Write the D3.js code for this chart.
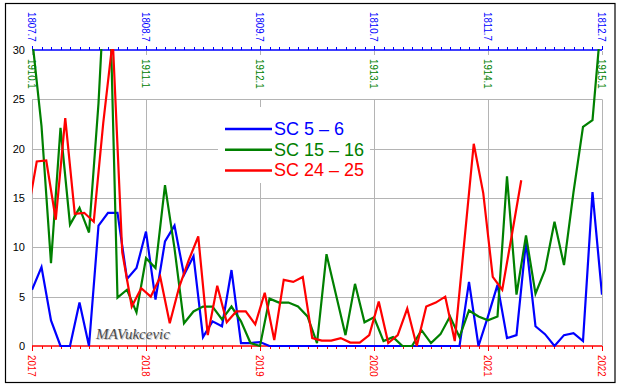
<!DOCTYPE html>
<html>
<head>
<meta charset="utf-8">
<script src="https://cdn.jsdelivr.net/npm/d3@7"></script>
<style>
  body { margin: 0; background: #fff; }
  svg { display: block; font-family: Arial, "Liberation Sans", sans-serif; }
</style>
</head>
<body>
<svg id="chart" width="622" height="387"></svg>
<script>
///// *** DATA *** /////
// monthly values, Jan 2017 .. Jan 2022
var sc56 = [5.7, 8.0, 2.6, 0, 0, 4.4, 0, 12.2, 13.5, 13.5, 6.8, 7.9, 11.6, 4.7, 10.6, 12.2, 7.2, 9.1, 0.9, 2.5,
            2.0, 7.7, 0.3, 0.3, 0.4, 0, 0, 0, 0, 0, 0, 0, 0, 0, 0, 0, 0, 0, 0, 0,
            0, 0, 0, 0, 0, 0, 6.5, 0, 3.0, 6.2, 0.8, 1.1, 10.6, 2.0, 1.2, 0, 1.1, 1.3, 0.5, 15.6, 5.2];
var sc1516 = [31.3, 22.3, 8.4, 22.1, 12.3, 14.0, 11.5, 24.6, 43, 4.9, 5.7, 3.4, 8.9, 7.9, 16.3, 9.9, 2.3, 3.5, 4.0, 4.0,
              2.7, 4.0, 2.5, 0.3, 0, 4.8, 4.4, 4.4, 4.0, 3.0, 0.3, 9.3, 5.2, 1.1, 6.3, 2.4, 2.9, 0.5, 0.9, 0,
              0, 1.6, 0.3, 1.2, 3.0, 0.9, 3.6, 3.0, 2.6, 3.0, 17.2, 5.2, 11.2, 5.3, 7.7, 12.6, 8.2, 15.6, 22.2, 22.9, 34];
// this one is sampled mid-month, starting half a month before Jan 2017
var sc2425 = [13.2, 18.7, 18.8, 12.8, 23.1, 13.4, 13.5, 12.6, 22.6, 31, 9.5, 4.0, 5.85, 5.0, 7.0, 2.3, 6.0, 8.7,
              11.1, 1.1, 6.1, 2.4, 3.5, 3.5, 2.2, 5.4, 0.6, 6.7, 6.5, 7.0, 0.8, 0.55, 0.55, 0.8, 0.35, 0.35, 1.1,
              4.5, 0.3, 1.1, 3.8, 0, 4.0, 4.4, 5.0, 0.5, 10.5, 20.5, 15.5, 7.0, 5.7, 11.2, 16.8];

var seriesNames = ['SC 5 \u2013 6', 'SC 15 \u2013 16', 'SC 24 \u2013 25'];
var seriesColors = ['#0000ff', '#008000', '#ff0000'];
var yearLabels = ['2017', '2018', '2019', '2020', '2021', '2022'];
var topBlueLabels = ['1807.7', '1808.7', '1809.7', '1810.7', '1811.7', '1812.7'];
var topGreenLabels = ['1910.1', '1911.1', '1912.1', '1913.1', '1914.1', '1915.1'];
var yTicks = [0, 5, 10, 15, 20, 25, 30];

///// *** SETUP *** /////
var svg = d3.select('#chart'),
    plotLeft = 32, plotRight = 602, plotTop = 50, plotBottom = 346;

var x = d3.scaleLinear().domain([0, 60]).range([plotLeft, plotRight]),
    y = d3.scaleLinear().domain([0, 30]).range([plotBottom, plotTop]);

var months = d3.range(0, 61),
    yearMonths = d3.range(0, 61, 12);

//outer frame
svg.append('rect')
  .attr('x', 5.5).attr('y', 3.5)
  .attr('width', 609.5).attr('height', 379)
  .attr('fill', '#fff').attr('stroke', '#000').attr('stroke-width', 1.2);

svg.append('clipPath').attr('id', 'plot-clip')
  .append('rect')
  .attr('x', plotLeft).attr('y', plotTop - 1)
  .attr('width', plotRight - plotLeft).attr('height', plotBottom - plotTop + 2);

///// *** GRID *** /////
svg.append('g').selectAll('line')
  .data(yTicks.filter(function(d) { return d > 0 && d < 30; }))
  .enter().append('line')
  .attr('x1', plotLeft).attr('x2', plotRight)
  .attr('y1', function(d) { return Math.round(y(d)) + 0.5; })
  .attr('y2', function(d) { return Math.round(y(d)) + 0.5; })
  .attr('stroke', '#b4b4b4');

svg.append('g').selectAll('line')
  .data(yearMonths)
  .enter().append('line')
  .attr('x1', function(d) { return Math.round(x(d)) + 0.5; })
  .attr('x2', function(d) { return Math.round(x(d)) + 0.5; })
  .attr('y1', y(25)).attr('y2', plotBottom)
  .attr('stroke', '#b4b4b4');

///// *** LEGEND *** /////
var legend = svg.append('g');
legend.append('rect')
  .attr('x', 218).attr('y', 107)
  .attr('width', 152).attr('height', 76)
  .attr('fill', '#fff');

seriesNames.forEach(function(name, i) {
  var ly = 129 + i * 20.7;
  legend.append('line')
    .attr('x1', 225).attr('x2', 272)
    .attr('y1', ly).attr('y2', ly)
    .attr('stroke', seriesColors[i]).attr('stroke-width', 2.5);
  legend.append('text')
    .attr('x', 274).attr('y', ly + 6)
    .attr('fill', seriesColors[i])
    .style('font-size', '18px')
    .text(name);
});

///// *** WATERMARK *** /////
[['#c8c8c8', 1], ['#4a4a4a', 0]].forEach(function(w) {
  svg.append('text')
    .attr('x', 96 + w[1]).attr('y', 339 + w[1])
    .attr('fill', w[0])
    .style('font-family', '"Liberation Serif", "DejaVu Serif", serif')
    .style('font-style', 'italic')
    .style('font-size', '15px')
    .text('MAVukcevic');
});

///// *** AXES *** /////
//rotated labels: reading top to bottom, a bit condensed
function vlabel(sel, ypos, color) {
  sel.attr('transform', function(d, i) {
      return 'translate(' + x(i * 12) + ',' + ypos + ') rotate(90) scale(0.88,1)';
    })
    .attr('dominant-baseline', 'central')
    .attr('fill', color)
    .style('font-size', '11px')
    .text(function(d) { return d; });
}

//left labels
svg.append('g').selectAll('text')
  .data(yTicks)
  .enter().append('text')
  .attr('x', 25).attr('y', function(d) { return y(d); })
  .attr('text-anchor', 'end')
  .attr('dominant-baseline', 'central')
  .style('font-size', '11px')
  .attr('fill', '#000')
  .text(function(d) { return d; });

//bottom red axis
var bAxis = svg.append('g');
bAxis.append('line')
  .attr('x1', plotLeft).attr('x2', plotRight)
  .attr('y1', plotBottom).attr('y2', plotBottom)
  .attr('stroke', '#ff0000').attr('stroke-width', 1.5);
bAxis.selectAll('.minor')
  .data(months)
  .enter().append('line')
  .attr('x1', function(d) { return Math.round(x(d)) + 0.5; })
  .attr('x2', function(d) { return Math.round(x(d)) + 0.5; })
  .attr('y1', plotBottom).attr('y2', function(d) { return plotBottom + (d % 12 === 0 ? 5 : 3); })
  .attr('stroke', '#ff0000');
bAxis.selectAll('text')
  .data(yearLabels)
  .enter().append('text')
  .call(vlabel, 355, '#ff0000');

//top blue axis
var tAxis = svg.append('g');
tAxis.append('line')
  .attr('x1', plotLeft).attr('x2', plotRight)
  .attr('y1', plotTop).attr('y2', plotTop)
  .attr('stroke', '#0000ff').attr('stroke-width', 1.5);
tAxis.selectAll('.minor')
  .data(months)
  .enter().append('line')
  .attr('x1', function(d) { return Math.round(x(d)) + 0.5; })
  .attr('x2', function(d) { return Math.round(x(d)) + 0.5; })
  .attr('y1', plotTop).attr('y2', function(d) { return plotTop - (d % 12 === 0 ? 4 : 3); })
  .attr('stroke', '#0000ff');
tAxis.selectAll('.gtick')
  .data(yearMonths)
  .enter().append('line')
  .attr('x1', function(d) { return Math.round(x(d)) + 0.5; })
  .attr('x2', function(d) { return Math.round(x(d)) + 0.5; })
  .attr('y1', plotTop + 1).attr('y2', plotTop + 5)
  .attr('stroke', '#b4b4b4');
tAxis.selectAll('.blue-label')
  .data(topBlueLabels)
  .enter().append('text')
  .call(vlabel, 12, '#0000ff');
tAxis.selectAll('.green-label')
  .data(topGreenLabels)
  .enter().append('text')
  .call(vlabel, 59, '#008000');

///// *** SERIES *** /////
var line = d3.line()
  .x(function(d) { return x(d[0]); })
  .y(function(d) { return y(d[1]); });

var seriesData = [
  sc56.map(function(v, i) { return [i, v]; }),
  sc1516.map(function(v, i) { return [i, v]; }),
  sc2425.map(function(v, i) { return [i - 0.5, v]; })
];

svg.append('g')
  .attr('clip-path', 'url(#plot-clip)')
  .selectAll('path')
  .data(seriesData)
  .enter().append('path')
  .attr('d', line)
  .attr('fill', 'none')
  .attr('stroke', function(d, i) { return seriesColors[i]; })
  .attr('stroke-width', 2.2)
  .attr('stroke-linejoin', 'miter');
</script>
</body>
</html>
